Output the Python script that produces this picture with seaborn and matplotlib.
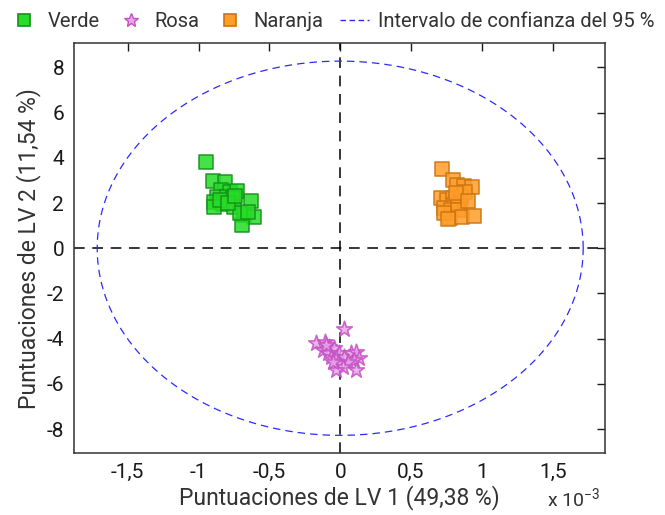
import numpy as np
import pandas as pd
import matplotlib
matplotlib.use("Agg")
import matplotlib.pyplot as plt
from matplotlib.ticker import FuncFormatter, FixedLocator
from matplotlib.lines import Line2D
import seaborn as sns

# ---- data (LV1 in units of 1e-3) ----
verde_x = [-0.95, -0.90, -0.81, -0.84, -0.78, -0.73, -0.87, -0.80, -0.76, -0.89, -0.83,
           -0.89, -0.75, -0.63, -0.68, -0.61, -0.69, -0.71, -0.85, -0.79, -0.74, -0.65]
verde_y = [3.82, 2.98, 2.93, 2.58, 2.49, 2.54, 2.27, 2.27, 2.23, 2.05, 1.96,
           1.83, 1.83, 2.09, 1.47, 1.38, 1.03, 1.56, 2.14, 2.00, 2.31, 1.60]
rosa_x = [0.025, -0.17, -0.11, -0.076, -0.041, -0.124, -0.088, -0.006, -0.064, -0.029, 0.030,
          0.077, 0.112, 0.136, 0.100, 0.053, -0.018, 0.018, 0.112, -0.029, -0.10, -0.053]
rosa_y = [-3.58, -4.20, -4.13, -4.35, -4.42, -4.50, -4.65, -4.65, -4.80, -4.87, -4.80,
          -4.65, -4.58, -4.87, -4.94, -5.02, -5.09, -5.24, -5.39, -5.39, -4.28, -5.02]
naranja_x = [0.717, 0.795, 0.826, 0.873, 0.929, 0.713, 0.755, 0.795, 0.854, 0.849, 0.802,
             0.736, 0.779, 0.830, 0.772, 0.859, 0.943, 0.736, 0.878, 0.819, 0.760, 0.900]
naranja_y = [3.51, 3.02, 2.80, 2.77, 2.70, 2.24, 2.14, 2.21, 2.28, 1.99, 1.92,
             1.77, 1.69, 1.69, 1.33, 1.40, 1.43, 1.55, 2.50, 2.43, 1.30, 2.10]

ellipse_a = 1.715   # semi-axis LV1 (x 1e-3)
ellipse_b = 8.28    # semi-axis LV2

x_ticks = [-1.5, -1.0, -0.5, 0.0, 0.5, 1.0, 1.5]
y_ticks = [-8, -6, -4, -2, 0, 2, 4, 6, 8]

x_label = "Puntuaciones de LV 1 (49,38 %)"
y_label = "Puntuaciones de LV 2 (11,54 %)"
ellipse_label = "Intervalo de confianza del 95 %"

df = pd.concat([
    pd.DataFrame({"LV1": verde_x, "LV2": verde_y, "grupo": "Verde"}),
    pd.DataFrame({"LV1": rosa_x, "LV2": rosa_y, "grupo": "Rosa"}),
    pd.DataFrame({"LV1": naranja_x, "LV2": naranja_y, "grupo": "Naranja"}),
])

sns.set_style("white")
plt.rcParams["font.family"] = ["Roboto", "DejaVu Sans"]

fig = plt.figure(figsize=(6.65, 5.15), dpi=100)
ax = fig.add_axes([0.111, 0.120, 0.799, 0.796])

styles = {
    "Verde": dict(marker="s", color="#26dc26", edgecolor="#14901a", s=92),
    "Rosa": dict(marker="*", color="#eaa6ea", edgecolor="#c451c4", s=140),
    "Naranja": dict(marker="s", color="#ff9d2a", edgecolor="#cc7410", s=92),
}
for g in ["Verde", "Rosa", "Naranja"]:
    st = styles[g]
    sub = df[df["grupo"] == g]
    sns.scatterplot(data=sub, x="LV1", y="LV2", ax=ax, marker=st["marker"],
                    color=st["color"], edgecolor=st["edgecolor"], s=st["s"],
                    linewidth=1.2, alpha=0.85, zorder=3, legend=False)

ax.axhline(0, color="black", lw=1.1, dashes=(7, 5), zorder=1)
ax.axvline(0, color="black", lw=1.1, dashes=(7, 5), zorder=1)

theta = np.linspace(0, 2 * np.pi, 400)
ax.plot(ellipse_a * np.cos(theta), ellipse_b * np.sin(theta),
        color="#2b2bff", lw=0.9, dashes=(6, 4), zorder=2)

ax.set_xlim(-1.88, 1.87)
ax.set_ylim(-9.07, 9.07)
ax.xaxis.set_major_locator(FixedLocator(x_ticks))
ax.yaxis.set_major_locator(FixedLocator(y_ticks))

def fmt(v, pos):
    return ("%g" % v).replace(".", ",")
ax.xaxis.set_major_formatter(FuncFormatter(fmt))
ax.yaxis.set_major_formatter(FuncFormatter(fmt))

ax.tick_params(direction="in", length=6, width=1, top=True, right=True,
               labelsize=15, colors="#1a1a1a", pad=7)
for sp in ax.spines.values():
    sp.set_color("#333333")
    sp.set_linewidth(1.1)

ax.set_xlabel(x_label, fontsize=16.5, color="#333333", labelpad=2)
ax.set_ylabel(y_label, fontsize=16.5, color="#333333", labelpad=4)
fig.text(0.822, 0.018, r"x $\mathregular{10^{-3}}$", fontsize=14, color="#333333")

leg_handles = [
    Line2D([], [], ls="none", marker="s", markersize=9, markerfacecolor="#26dc26",
           markeredgecolor="#14901a", markeredgewidth=1.2),
    Line2D([], [], ls="none", marker="*", markersize=10, markerfacecolor="#eaa6ea",
           markeredgecolor="#c451c4", markeredgewidth=1.0),
    Line2D([], [], ls="none", marker="s", markersize=9, markerfacecolor="#ff9d2a",
           markeredgecolor="#cc7410", markeredgewidth=1.2),
    Line2D([], [], color="#2b2bff", lw=1.0, dashes=(4, 2.5)),
]
fig.legend(leg_handles, ["Verde", "Rosa", "Naranja", ellipse_label],
           loc="upper left", bbox_to_anchor=(-0.012, 1.012), ncol=4, frameon=False,
           fontsize=14.5, handlelength=1.4, handletextpad=0.45, columnspacing=0.85,
           labelcolor="#333333")
fig.savefig("out.png", dpi=100)
